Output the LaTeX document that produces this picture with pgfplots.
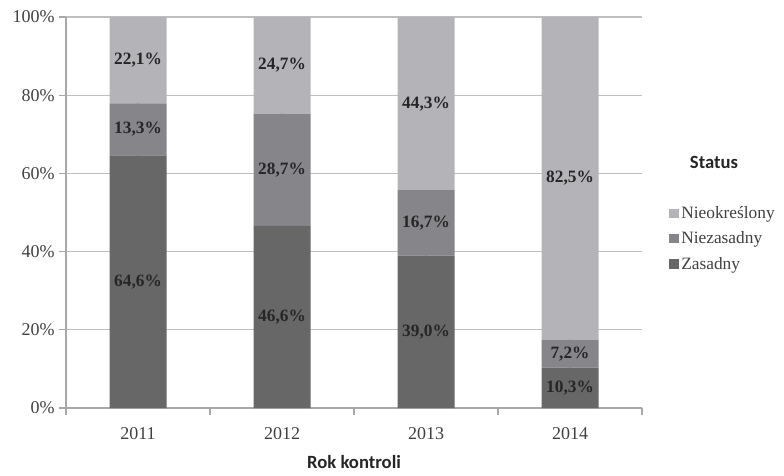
\documentclass[border=0pt]{standalone}
\usepackage{pgfplots}
\pgfplotsset{compat=1.18}
\usepackage{pgfplotstable}
\usepackage{fontspec}
\setmainfont{Liberation Serif}
\newfontfamily\calib{Carlito}
\newfontfamily\tnr{Liberation Serif}
\definecolor{cZas}{HTML}{676767}
\definecolor{cNie}{HTML}{86868A}
\definecolor{cNok}{HTML}{B4B4B8}
\definecolor{grid}{HTML}{A8A8A8}
\definecolor{tick}{HTML}{404040}

\pgfplotstableread{
x y lab
0 64.6 64,6
1 46.6 46,6
2 39.0 39,0
3 10.3 10,3
}\zas
\pgfplotstableread{
x y lab
0 13.3 13,3
1 28.7 28,7
2 16.7 16,7
3 7.2 7,2
}\niez
\pgfplotstableread{
x y lab
0 22.1 22,1
1 24.7 24,7
2 44.3 44,3
3 82.5 82,5
}\nieok

\begin{document}
\begin{tikzpicture}
\path[use as bounding box] (0,0) rectangle (588pt,356.25pt);
\begin{axis}[
  at={(49.5pt,50.25pt)}, anchor=south west,
  scale only axis, width=432pt, height=293.25pt,
  clip=false,
  ybar stacked, bar width=42.75pt,
  xmin=-0.5, xmax=3.5, ymin=0, ymax=100,
  axis x line*=bottom, axis y line*=left,
  axis line style={grid, line width=0.9pt, -},
  xtick={0,1,2,3}, xticklabels={2011,2012,2013,2014},
  minor xtick={-0.5,0.5,1.5,2.5,3.5},
  ytick={0,20,40,60,80,100},
  yticklabel={\pgfmathprintnumber{\tick}\%},
  /pgf/number format/assume math mode=true,
  major x tick style={draw=none},
  minor x tick style={grid, line width=0.9pt},
  y tick style={grid, line width=0.9pt},
  tick align=outside,
  major tick length=5pt, minor tick length=5pt,
  ymajorgrids, grid style={grid, line width=0.9pt},
  ticklabel style={font=\tnr\fontsize{13.5pt}{15pt}\selectfont, text=tick},
  xticklabel style={yshift=-6pt},
  xlabel={\calib\bfseries Rok kontroli},
  xlabel style={at={(axis description cs:0.5,-0.138)}, anchor=center, font=\fontsize{14pt}{16pt}\selectfont, text=black!85},
  point meta=explicit symbolic,
  nodes near coords={\pgfplotspointmeta\%},
  every node near coord/.append style={anchor=center, font=\tnr\bfseries\fontsize{13pt}{15pt}\selectfont, text=black!85},
  legend style={draw=none, fill=none, at={(axis description cs:1.04,0.53)}, anchor=north west,
    font=\tnr\fontsize{13pt}{15pt}\selectfont, text=tick, row sep=4.5pt,
    /tikz/every even column/.append style={column sep=0pt}},
  legend cell align=left,
  reverse legend,
  legend image code/.code={\fill[#1] (0pt,-3.5pt) rectangle (7pt,3.5pt);},
]
\addplot[fill=cZas, draw=none] table[x=x, y=y, meta=lab] {\zas};
\addlegendentry{\tnr Zasadny}
\addplot[fill=cNie, draw=none] table[x=x, y=y, meta=lab] {\niez};
\addlegendentry{\tnr Niezasadny}
\addplot[fill=cNok, draw=none] table[x=x, y=y, meta=lab] {\nieok};
\addlegendentry{\tnr Nieokreślony}
\node[font=\calib\bfseries\fontsize{14pt}{16pt}\selectfont, text=black!85] at (axis description cs:1.125,0.629) {Status};
\end{axis}
\end{tikzpicture}
\end{document}
